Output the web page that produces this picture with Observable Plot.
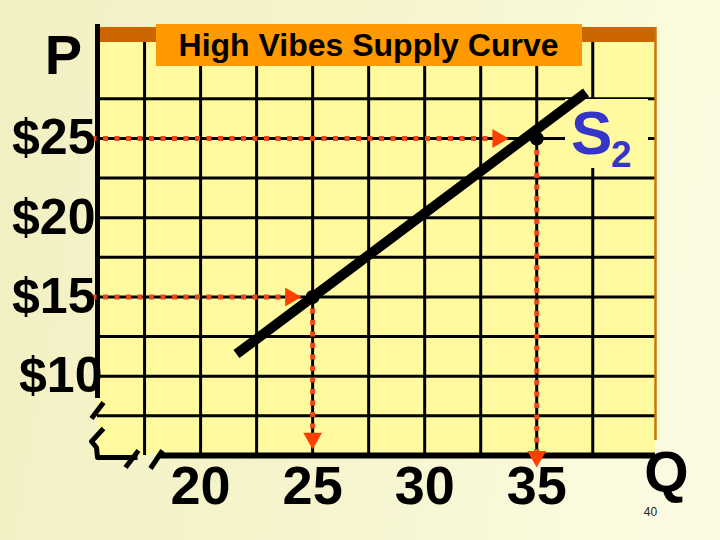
<!DOCTYPE html>
<html>
<head>
<meta charset="utf-8">
<script src="https://cdn.jsdelivr.net/npm/d3@7"></script>
<script src="https://cdn.jsdelivr.net/npm/@observablehq/plot@0.6"></script>
<style>
  html, body { margin: 0; padding: 0; }
  body {
    width: 720px; height: 540px; overflow: hidden;
    background: linear-gradient(100deg, #f2f0c2 0%, #f6f4cc 45%, #fafadc 80%, #fcfbe4 100%);
  }
</style>
</head>
<body>
<div id="chart"></div>
<script>
// ---- data ----
const titleText = "High Vibes Supply Curve";
const priceTicks = [10, 15, 20, 25];
const quantityTicks = [20, 25, 30, 35];
const gridQuantities = [17.5, 20, 22.5, 25, 27.5, 30, 32.5, 35, 37.5];
const gridPrices = [7.5, 10, 12.5, 15, 17.5, 20, 22.5, 25, 27.5];
const supplyCurve = [{q: 21.6, p: 11.4}, {q: 37.2, p: 27.9}];
const curvePoints = [{q: 25, p: 15}, {q: 35, p: 25}];
const arrowTipQ = [24.5, 33.75];   // horizontal arrow tips (at price of each point)
const arrowTipP = [5.4, 4.25];     // vertical arrow tips (at quantity of each point)
const curveName = "S";
const curveSub = "2";
const slideNumber = "40";

// ---- layout ----
const W = 720, H = 540;
const mL = 97, mR = 65, mT = 27, mB = 85;
const xDomain = [15.4, 40.3];
const yDomain = [5, 32];
const xs = d3.scaleLinear(xDomain, [mL, W - mR]);
const ys = d3.scaleLinear(yDomain, [H - mB, mT]);
const P = (x, y) => ({q: xs.invert(x), p: ys.invert(y)});
const qOff = (q, px) => xs.invert(xs(q) + px);
const pOff = (p, px) => ys.invert(ys(p) + px);

const font = "Liberation Sans, Arial, Helvetica, sans-serif";
const areaFill = "#fffa9f";
const dotRed = "#e8481c";
const headRed = "#ff4000";

const pTopBarBottom = ys.invert(42);
const pTop = ys.invert(27);

const rectOf = (a, b) => [{x1: a.q, x2: b.q, y1: a.p, y2: b.p}];
const rectOpts = (fill) => ({x1: "x1", x2: "x2", y1: "y1", y2: "y2", fill});

// dotted guide lines
const guides = [];
curvePoints.forEach((d, i) => {
  guides.push({id: "h" + i, q: qOff(xDomain[0], -6), p: d.p});
  guides.push({id: "h" + i, q: qOff(arrowTipQ[i], -12), p: d.p});
  guides.push({id: "v" + i, q: d.q, p: d.p});
  guides.push({id: "v" + i, q: d.q, p: pOff(arrowTipP[i], -12)});
});
const headsH = curvePoints.map((d, i) => ({q: arrowTipQ[i], p: d.p}));
const headsV = curvePoints.map((d, i) => ({q: d.q, p: arrowTipP[i]}));

// axis break marks (pixel offsets from the lower-left corner)
const cx = mL, cy = H - mB;
const breakPaths = [
  [[6, -53], [-6, -37]],
  [[6, -27], [-6, -14], [-1, -8], [0, 2], [40, 2]],
  [[28, 12], [41, -5]],
  [[53, 13], [65, -5]]
];
const breakPts = breakPaths.flatMap((path, i) =>
  path.map(([dx, dy]) => ({id: i, ...P(cx + dx, cy + dy)})));

const tri = 7;
const tipDist = 2 * Math.sqrt(Math.PI * tri * tri / (Math.sqrt(3) * 3));

const end = supplyCurve[supplyCurve.length - 1];

const chart = Plot.plot({
  width: W,
  height: H,
  marginLeft: mL, marginRight: mR, marginTop: mT, marginBottom: mB,
  x: {domain: xDomain, axis: null},
  y: {domain: yDomain, axis: null},
  style: {background: "transparent", fontFamily: font, overflow: "visible"},
  marks: [
    // plot area
    Plot.rect(rectOf(P(mL, 42), P(W - mR, H - mB)), rectOpts(areaFill)),
    // grid
    Plot.ruleX(gridQuantities, {y1: yDomain[0], y2: pTopBarBottom, stroke: "black", strokeWidth: 3}),
    Plot.ruleY(gridPrices, {x1: xDomain[0], x2: xDomain[1], stroke: "black", strokeWidth: 3}),
    // label background behind S2
    Plot.rect(rectOf(P(565, 99), P(648, 168)), rectOpts(areaFill)),
    // top bar and right border
    Plot.rect(rectOf(P(mL, 42), P(W - mR, 27)), rectOpts("#cc6600")),
    Plot.ruleX([xDomain[1]], {y1: ys.invert(440), y2: pTop, stroke: "#c87800", strokeWidth: 2.5}),
    // axes
    Plot.ruleX([xDomain[0]], {y1: ys.invert(398), y2: ys.invert(24), stroke: "black", strokeWidth: 5}),
    Plot.ruleY([yDomain[0]], {x1: xs.invert(160), x2: xDomain[1], stroke: "black", strokeWidth: 6}),
    Plot.line(breakPts, {x: "q", y: "p", z: "id", stroke: "black", strokeWidth: 5, strokeLinecap: "butt", strokeLinejoin: "round"}),
    // dotted guides
    Plot.line(guides, {x: "q", y: "p", z: "id", stroke: dotRed, strokeWidth: 5, strokeDasharray: "5,6.5", strokeLinecap: "butt"}),
    Plot.dot(headsH, {x: "q", y: "p", symbol: "triangle", r: tri, rotate: 90, dx: -tipDist, fill: headRed, stroke: "none"}),
    Plot.dot(headsV, {x: "q", y: "p", symbol: "triangle", r: tri, rotate: 180, dy: -tipDist, fill: headRed, stroke: "none"}),
    // supply curve
    Plot.line(supplyCurve, {x: "q", y: "p", stroke: "black", strokeWidth: 10, strokeLinecap: "butt"}),
    Plot.dot(curvePoints, {x: "q", y: "p", r: 7, fill: "black", stroke: "none"}),
    // curve label
    Plot.text([end], {x: "q", y: "p", text: () => curveName, dx: -15, dy: 62, lineAnchor: "bottom", textAnchor: "start", fontSize: 62, fontWeight: "bold", fill: "#3535c8"}),
    Plot.text([end], {x: "q", y: "p", text: () => curveSub, dx: 25, dy: 75, lineAnchor: "bottom", textAnchor: "start", fontSize: 37, fontWeight: "bold", fill: "#3535c8"}),
    // title box
    Plot.rect(rectOf(P(156, 24), P(582, 66)), rectOpts("#ff9900")),
    Plot.text([titleText], {text: d => d, frameAnchor: "top", textAnchor: "middle", dx: -8, dy: 28, lineAnchor: "bottom", fontSize: 32, fontWeight: "bold", fill: "black"}),
    // tick labels
    Plot.text(priceTicks.filter(v => v !== 10), {y: d => d, text: d => "$" + d, frameAnchor: "left", textAnchor: "end", dx: -2, fontSize: 50, fontWeight: "bold", fill: "black"}),
    Plot.text(priceTicks.filter(v => v === 10), {y: d => d, text: d => "$" + d, frameAnchor: "left", textAnchor: "end", dx: 5, fontSize: 50, fontWeight: "bold", fill: "black"}),
    Plot.text(quantityTicks, {x: d => d, text: d => String(d), frameAnchor: "bottom", textAnchor: "middle", lineAnchor: "top", dy: 10, fontSize: 54, fontWeight: "bold", fill: "black"}),
    // axis names
    Plot.text(["P"], {text: d => d, frameAnchor: "top-left", textAnchor: "middle", dx: -34, dy: 46, lineAnchor: "bottom", fontSize: 56, fontWeight: "bold", fill: "black"}),
    Plot.text(["Q"], {text: d => d, frameAnchor: "bottom-right", textAnchor: "middle", dx: 11, dy: 36, lineAnchor: "bottom", fontSize: 57, fontWeight: "bold", fill: "black"}),
    Plot.text([slideNumber], {text: d => d, frameAnchor: "bottom-right", textAnchor: "middle", dx: -5, dy: 60, lineAnchor: "bottom", fontSize: 12, fill: "#222"})
  ]
});
document.getElementById("chart").appendChild(chart);
</script>
</body>
</html>
